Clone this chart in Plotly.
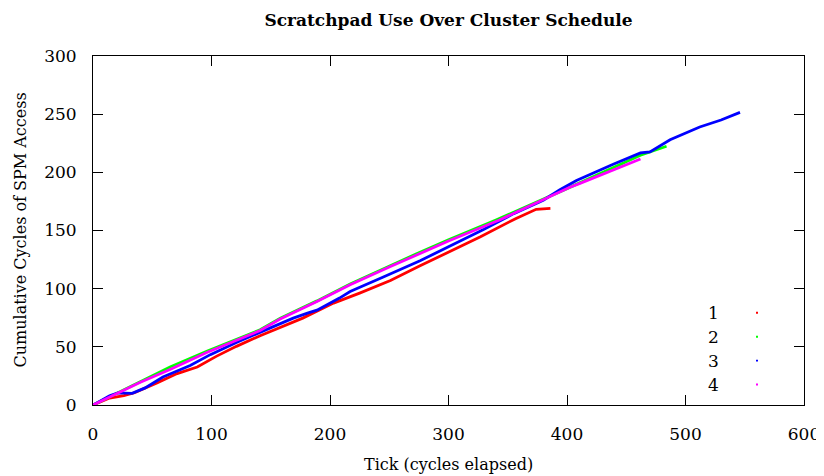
import plotly.graph_objects as go

# Series data (tick, cumulative cycles)
t1 = [0, 14, 26, 35, 54, 71, 88, 104, 121, 141, 177, 203, 225, 251, 276, 293, 327, 357, 374, 386]
v1 = [0, 6, 8, 10.5, 19, 27, 32.7, 41.8, 50.4, 59.6, 74.7, 87.6, 96.2, 107, 119.6, 128, 144.7, 160.4, 168.2, 169]

t2 = [0, 20, 40, 65, 96, 141, 158, 189, 217, 251, 273, 300, 340, 400, 428, 462, 484]
v2 = [0, 10, 20.4, 32.7, 46.1, 64.7, 74.5, 89.5, 104, 120, 130, 142, 159, 186, 199, 214.7, 222.4]

t3 = [0, 14, 21, 33, 44, 59, 82, 99, 121, 141, 169, 181, 189, 208, 217, 245, 276, 300, 330, 355, 380, 394, 408, 439, 462, 470, 487, 512, 530, 546]
v3 = [0, 8, 10.4, 10, 14.7, 24, 34, 43.3, 53.8, 62.4, 74.7, 79, 81.5, 91.9, 97.5, 110, 124, 136, 151, 164.5, 176, 185, 193, 207, 216.7, 217.5, 228, 239, 245, 251.5]

t4 = [0, 20, 40, 65, 96, 141, 158, 189, 217, 251, 273, 300, 343, 372, 402, 411, 436, 462]
v4 = [0, 10, 19.5, 30.5, 45.2, 64, 73.9, 89, 103.3, 119, 128.7, 141, 159, 173, 187, 190.5, 201, 211.5]

names = ["1", "2", "3", "4"]
colors = ["#ff0000", "#00ff00", "#0000ff", "#ff00ff"]
series = [(t1, v1), (t2, v2), (t3, v3), (t4, v4)]

x_ticks = [0, 100, 200, 300, 400, 500, 600]
y_ticks = [0, 50, 100, 150, 200, 250, 300]

FONT = "DejaVu Serif"

fig = go.Figure()
for (t, v), n, c in zip(series, names, colors):
    fig.add_trace(go.Scatter(x=t, y=v, mode="lines", name=n,
                             line=dict(color=c, width=2.8), showlegend=False))

OFF = 8      # default page body margin (figure starts at window x=8, y=8)
W, H = 824 - OFF, 476 - OFF
# target plot area in window pixels: x 93..804, y 55.5..405.5
L, R, T, B = 93 - OFF, 824 - 804, 55.5 - OFF, 476 - 405.5
pw, ph = 804 - 93, 405.5 - 55.5
bottom_px = 405.5  # window pixel of y=0

annotations = []
shapes = []
leg_y = [313, 337, 361, 385]
for n, c, yy in zip(names, colors, leg_y):
    yp = (bottom_px - yy) / ph
    annotations.append(dict(xref="paper", yref="paper", x=(721 - 93) / pw, y=yp,
                            xanchor="right", yanchor="middle", text=n, showarrow=False,
                            font=dict(family=FONT, size=17, color="black")))
    xp = (757 - 93) / pw
    shapes.append(dict(type="rect", xref="paper", yref="paper",
                       x0=xp - 1 / pw, x1=xp + 1 / pw, y0=yp - 1 / ph, y1=yp + 1 / ph,
                       fillcolor=c, line=dict(width=0)))

annotations.append(dict(xref="paper", yref="paper", x=0.5, y=(bottom_px - 465) / ph,
                        xanchor="center", yanchor="middle", text="Tick (cycles elapsed)",
                        showarrow=False, font=dict(family=FONT, size=16, color="black")))
annotations.append(dict(xref="paper", yref="paper", x=(20 - 93) / pw, y=0.5,
                        xanchor="center", yanchor="middle", textangle=-90,
                        text="Cumulative Cycles of SPM Access",
                        showarrow=False, font=dict(family=FONT, size=16, color="black")))

axis_common = dict(showline=True, linecolor="black", linewidth=1, mirror="allticks",
                   ticks="inside", ticklen=10, tickcolor="black", tickwidth=1,
                   showgrid=False, zeroline=False, automargin=False,
                   ticklabeloverflow="allow",
                   tickfont=dict(family=FONT, size=17, color="black"))

fig.update_layout(
    width=W, height=H,
    margin=dict(l=L, r=R, t=T, b=B, pad=0, autoexpand=False),
    paper_bgcolor="white", plot_bgcolor="white",
    title=dict(text="<b>Scratchpad Use Over Cluster Schedule</b>", x=0.5, xref="paper",
               y=1 - (20 - OFF) / H, yanchor="middle",
               font=dict(family=FONT, size=17, color="black")),
    xaxis=dict(range=[0, 600], tickvals=x_ticks, ticklabelstandoff=14, **axis_common),
    yaxis=dict(range=[0, 300], tickvals=y_ticks, ticklabelstandoff=12, **axis_common),
    annotations=annotations, shapes=shapes,
    showlegend=False,
)

fig.write_html("out.html", config={"displayModeBar": False})
